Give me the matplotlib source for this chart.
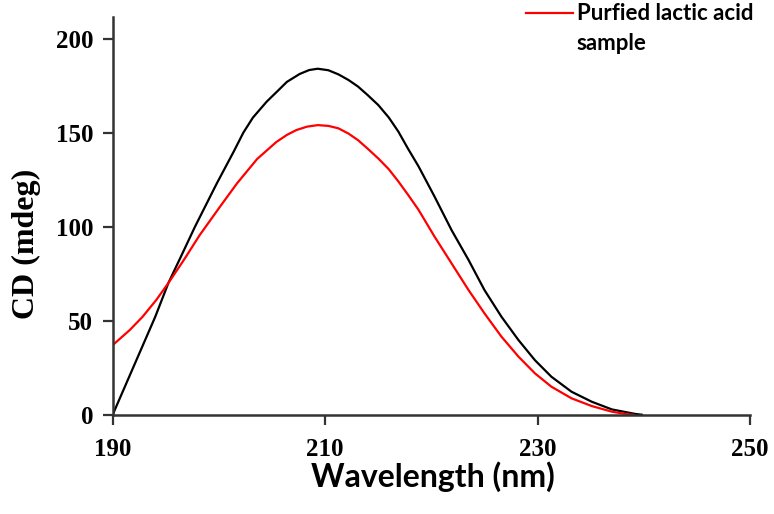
import matplotlib.pyplot as plt
from matplotlib.lines import Line2D

# CD spectra (wavelength in nm, CD in mdeg)
wavelength_std = [190.0, 191.0, 192.0, 193.0, 194.0, 195.24, 196.5, 197.75, 199.8, 201.4,
                  202.3, 203.2, 204.5, 205.5, 206.4, 207.6, 208.5, 209.3, 210.3, 211.25,
                  212.2, 213.1, 214.0, 215.0, 216.0, 216.9, 217.8, 218.8, 220.3, 221.9,
                  223.5, 225.0, 226.6, 228.2, 229.75, 231.3, 233.2, 235.1, 237.0, 239.2, 239.8]
cd_std = [0, 13, 26, 39, 52, 70, 85, 100, 123, 140,
          150, 158, 166.5, 172, 177, 181.2, 183.3, 184, 183.2, 181,
          178, 174.5, 170, 164.7, 158, 150.5, 141.5, 132, 116, 98.2,
          82.3, 66.3, 52.1, 39.7, 29, 20.2, 12.2, 6.9, 2.8, 0.4, 0]

wavelength_sample = [190.0, 191.6, 192.8, 194.1, 195.24, 196.7, 198.2, 200.1, 201.7, 203.6,
                     205.4, 206.4, 207.3, 208.3, 209.3, 210.3, 211.25, 212.2, 213.1, 214.0,
                     215.0, 216.0, 216.9, 217.8, 218.8, 220.3, 221.9, 223.5, 225.0, 226.6,
                     228.2, 229.75, 231.3, 233.2, 235.1, 237.0, 238.5, 239.0]
cd_sample = [37, 45, 52, 61, 70, 82.3, 95.6, 110.6, 123, 136,
             145, 148.8, 151.4, 153.2, 154, 153.6, 152.3, 149.5, 146, 141.5,
             136.3, 130.5, 124, 117, 108.9, 94.7, 80.5, 66.3, 53.9, 41.5,
             30.9, 22, 14.9, 8.7, 4.6, 1.6, 0.2, 0]

sample_label = ["Purfied lactic acid", "sample"]
x_ticks = [190, 210, 230, 250]
y_ticks = [0, 50, 100, 150, 200]

sans = ["Lato", "DejaVu Sans"]
serif = ["Liberation Serif", "DejaVu Serif"]

fig = plt.figure(figsize=(7.74, 5.14), dpi=100)
ax = fig.add_axes([0.1456, 0.1932, 0.8234, 0.7737])

ax.plot(wavelength_std, cd_std, color="black", linewidth=1.6)
ax.plot(wavelength_sample, cd_sample, color="#ff0000", linewidth=1.6)

ax.set_xlim(190, 250)
ax.set_ylim(0, 211.5)
ax.set_xticks(x_ticks)
ax.set_yticks(y_ticks)
for side in ("top", "right"):
    ax.spines[side].set_visible(False)
for side in ("left", "bottom"):
    ax.spines[side].set_linewidth(1.8)
    ax.spines[side].set_color("#333333")
ax.tick_params(direction="out", length=7, width=1.6, color="#333333")
ax.tick_params(axis="y", pad=7)
ax.tick_params(axis="x", pad=10)
for lab in ax.get_xticklabels() + ax.get_yticklabels():
    lab.set_fontfamily(serif)
    lab.set_fontweight("bold")
    lab.set_fontsize(18)

ax.set_xlabel("Wavelength (nm)", fontfamily=sans, fontweight="bold", fontsize=23)
ax.xaxis.set_label_coords(0.502, -0.118)
ax.set_ylabel("CD (mdeg)", fontfamily=serif, fontweight="bold", fontsize=23)
ax.yaxis.set_label_coords(-0.113, 0.43)

# legend key for the red trace, placed top right as in the figure
fig.add_artist(Line2D([0.68, 0.74], [0.975, 0.975], transform=fig.transFigure,
                      color="#ff0000", linewidth=1.6))
fig.text(0.745, 0.961, sample_label[0], fontfamily=sans, fontweight="bold",
         fontsize=16, va="baseline", ha="left")
fig.text(0.745, 0.903, sample_label[1], fontfamily=sans, fontweight="bold",
         fontsize=16, va="baseline", ha="left")

fig.savefig("out.png", dpi=100)
plt.close(fig)
